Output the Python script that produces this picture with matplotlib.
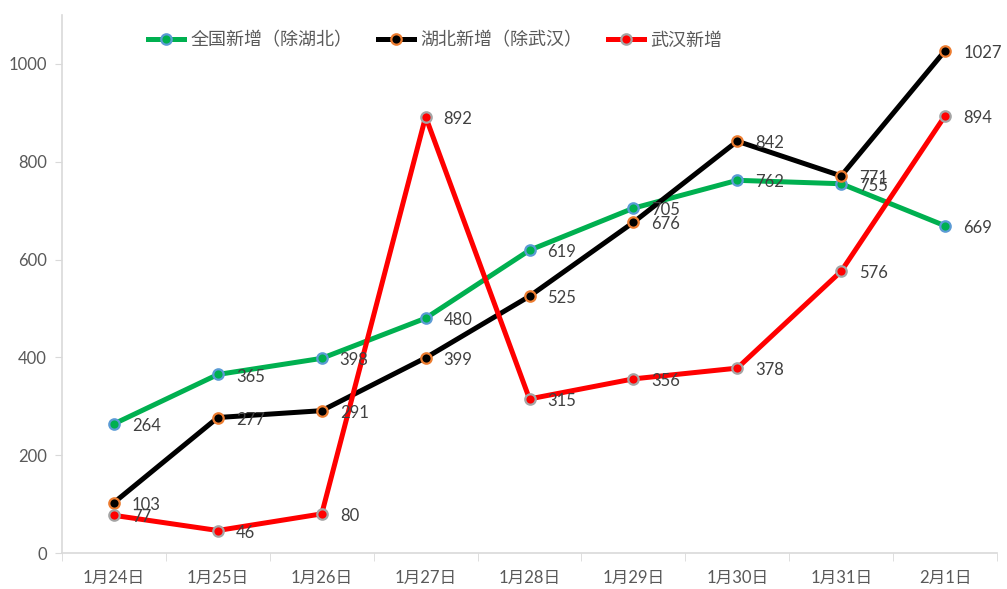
import matplotlib
import matplotlib.pyplot as plt

matplotlib.use("Agg")
plt.rcParams["font.family"] = ["Lato", "Noto Sans CJK SC", "DejaVu Sans"]

dates = ["1月24日", "1月25日", "1月26日", "1月27日", "1月28日", "1月29日", "1月30日", "1月31日", "2月1日"]
national = [264, 365, 398, 480, 619, 705, 762, 755, 669]
hubei = [103, 277, 291, 399, 525, 676, 842, 771, 1027]
wuhan = [77, 46, 80, 892, 315, 356, 378, 576, 894]

series = [
    ("全国新增（除湖北）", national, "#00b050", "#5b9bd5"),
    ("湖北新增（除武汉）", hubei, "#000000", "#ed7d31"),
    ("武汉新增", wuhan, "#ff0000", "#a5a5a5"),
]

fig = plt.figure(figsize=(10.07, 5.89), dpi=100)
ax = fig.add_axes([62 / 1007, 36 / 589, 935 / 1007, 538 / 589])
x = list(range(len(dates)))

for label, vals, color, edge in series:
    ax.plot(x, vals, color=color, lw=3.6, marker="o", markersize=7.5,
            markerfacecolor=color, markeredgecolor=edge, markeredgewidth=1.6,
            label=label, zorder=3)
    for xi, v in zip(x, vals):
        ax.annotate(str(v), (xi, v), xytext=(13, -1.5), textcoords="offset points",
                    ha="left", va="center", fontsize=12, color="#404040", zorder=4)

ax.set_xlim(-0.5, len(dates) - 0.5)
ax.set_ylim(0, 1100)
ax.set_yticks(range(0, 1001, 200))
ax.set_xticks(x)
ax.set_xticklabels(dates)
ax.set_xticks([i + 0.5 for i in range(-1, len(dates))], minor=True)
ax.tick_params(axis="x", which="major", length=0, pad=12, labelsize=12, labelcolor="#595959")
ax.tick_params(axis="x", which="minor", length=6, color="#d9d9d9", direction="out")
ax.tick_params(axis="y", length=5, color="#d9d9d9", labelsize=12, labelcolor="#595959", pad=6)

for side in ("top", "right"):
    ax.spines[side].set_visible(False)
for side in ("left", "bottom"):
    ax.spines[side].set_color("#d9d9d9")
    ax.spines[side].set_linewidth(1.2)

ax.legend(loc="upper left", bbox_to_anchor=(0.075, 1.0), ncol=3, frameon=False,
          fontsize=13, labelcolor="#595959", handlelength=2.0, handletextpad=0.35,
          columnspacing=1.4)

fig.savefig("out.png", dpi=100)
